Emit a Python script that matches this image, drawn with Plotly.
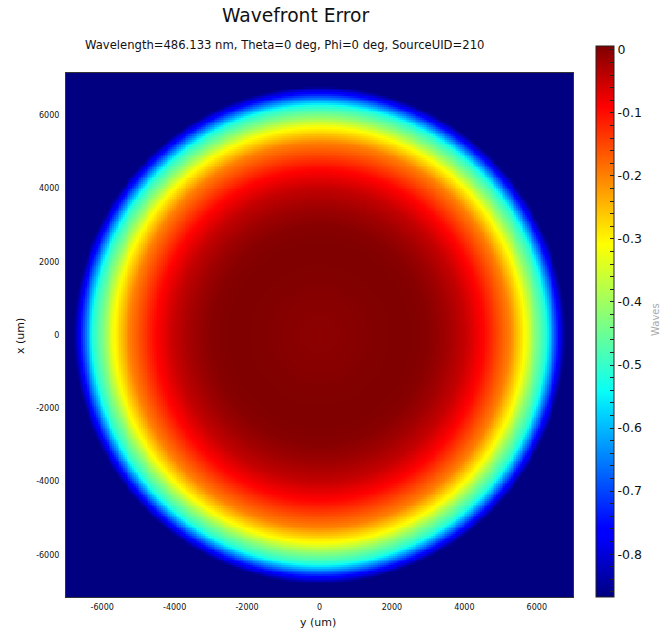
import numpy as np
import plotly.graph_objects as go

# Radial profile of the wavefront error (radius in um -> waves)
RADIUS_UM = [0, 1000, 1500, 2000, 2500, 3000, 3500, 4000, 4540, 5250, 5670, 5950, 6250, 6600, 6780]
WFE_WAVES = [-0.004, 0.0, 0.004, 0.006, 0.006, 0.0, -0.018, -0.045, -0.095, -0.20, -0.31, -0.42, -0.52, -0.76, -0.868]
OUTSIDE_VALUE = -0.868

# Grid coordinates (um)
Y_UM = np.arange(-7000, 7001, 50)   # horizontal axis "y (um)"
X_UM = np.arange(-7150, 7151, 50)   # vertical axis "x (um)"

ZMIN, ZMAX = -0.868, 0.006
CB_MAJOR = [0, -0.1, -0.2, -0.3, -0.4, -0.5, -0.6, -0.7, -0.8]
CB_ALL = [round(-0.02 * i, 2) for i in range(0, 44)]
AXIS_TICKS = [-6000, -4000, -2000, 0, 2000, 4000, 6000]

YY, XX = np.meshgrid(Y_UM, X_UM)
R = np.sqrt(YY ** 2 + XX ** 2)
Z = np.interp(R, RADIUS_UM, WFE_WAVES, right=OUTSIDE_VALUE)
Z = np.round(Z, 4)

# MATLAB-style jet colorscale
jet = [
    [0.0, "rgb(0,0,128)"],
    [0.11, "rgb(0,0,255)"],
    [0.125, "rgb(0,0,255)"],
    [0.34, "rgb(0,219,255)"],
    [0.375, "rgb(10,255,245)"],
    [0.5, "rgb(128,255,128)"],
    [0.64, "rgb(255,255,0)"],
    [0.66, "rgb(255,236,0)"],
    [0.89, "rgb(255,0,0)"],
    [1.0, "rgb(128,0,0)"],
]

FONT = "DejaVu Sans"

def cb_label(v):
    for m in CB_MAJOR:
        if abs(v - m) < 1e-9:
            return "0" if m == 0 else str(m)
    return ""

fig = go.Figure(
    go.Heatmap(
        x=Y_UM,
        y=X_UM,
        z=Z,
        zmin=ZMIN,
        zmax=ZMAX,
        colorscale=jet,
        hoverinfo="skip",
        colorbar=dict(
            x=(596 - 66) / 507,
            xanchor="left",
            xpad=0,
            y=0,
            yanchor="bottom",
            ypad=0,
            lenmode="pixels",
            len=551,
            thickness=18,
            outlinewidth=1,
            outlinecolor="#222",
            tickvals=CB_ALL,
            ticktext=[cb_label(v) for v in CB_ALL],
            ticks="inside",
            ticklen=4,
            tickcolor="#222",
            tickfont=dict(family=FONT, size=12.5, color="#111"),
        ),
    )
)

fig.update_layout(
    width=663,
    height=632,
    margin=dict(l=66, r=90, t=73, b=35, autoexpand=False),
    paper_bgcolor="white",
    plot_bgcolor="white",
    xaxis=dict(
        range=[-7000, 7000],
        tickvals=AXIS_TICKS,
        ticktext=[str(v) for v in AXIS_TICKS],
        ticks="",
        showgrid=False,
        zeroline=False,
        showline=True,
        linecolor="#333",
        linewidth=1,
        mirror=True,
        automargin=False,
        tickfont=dict(family=FONT, size=8, color="#111"),
        ticklabelstandoff=2,
    ),
    yaxis=dict(
        range=[-7150, 7150],
        tickvals=AXIS_TICKS,
        ticktext=[str(v) for v in AXIS_TICKS],
        ticks="",
        showgrid=False,
        zeroline=False,
        showline=True,
        linecolor="#333",
        linewidth=1,
        mirror=True,
        automargin=False,
        tickfont=dict(family=FONT, size=8, color="#111"),
        ticklabelstandoff=4,
    ),
    annotations=[
        dict(text="Wavefront Error", xref="paper", yref="paper",
             x=(296 - 66) / 507, y=(597 - 15) / 524, xanchor="center", yanchor="middle",
             showarrow=False, font=dict(family=FONT, size=18.7, color="#111")),
        dict(text="Wavelength=486.133 nm, Theta=0 deg, Phi=0 deg, SourceUID=210",
             xref="paper", yref="paper",
             x=(284 - 66) / 507, y=(597 - 45) / 524, xanchor="center", yanchor="middle",
             showarrow=False, font=dict(family=FONT, size=11.6, color="#111")),
        dict(text="y (um)", xref="paper", yref="paper",
             x=(318 - 66) / 507, y=(597 - 622) / 524, xanchor="center", yanchor="middle",
             showarrow=False, font=dict(family=FONT, size=11, color="#111")),
        dict(text="x (um)", xref="paper", yref="paper",
             x=(20 - 66) / 507, y=(597 - 336) / 524, xanchor="center", yanchor="middle",
             textangle=-90, showarrow=False, font=dict(family=FONT, size=11, color="#111")),
        dict(text="Waves", xref="paper", yref="paper",
             x=(655 - 66) / 507, y=(597 - 320) / 524, xanchor="center", yanchor="middle",
             textangle=-90, showarrow=False, font=dict(family=FONT, size=10, color="#aaa")),
    ],
)

fig.write_html(
    "out.html",
    config={"displayModeBar": False},
    post_script="document.body.style.margin='0px';document.body.style.overflow='hidden';",
)
